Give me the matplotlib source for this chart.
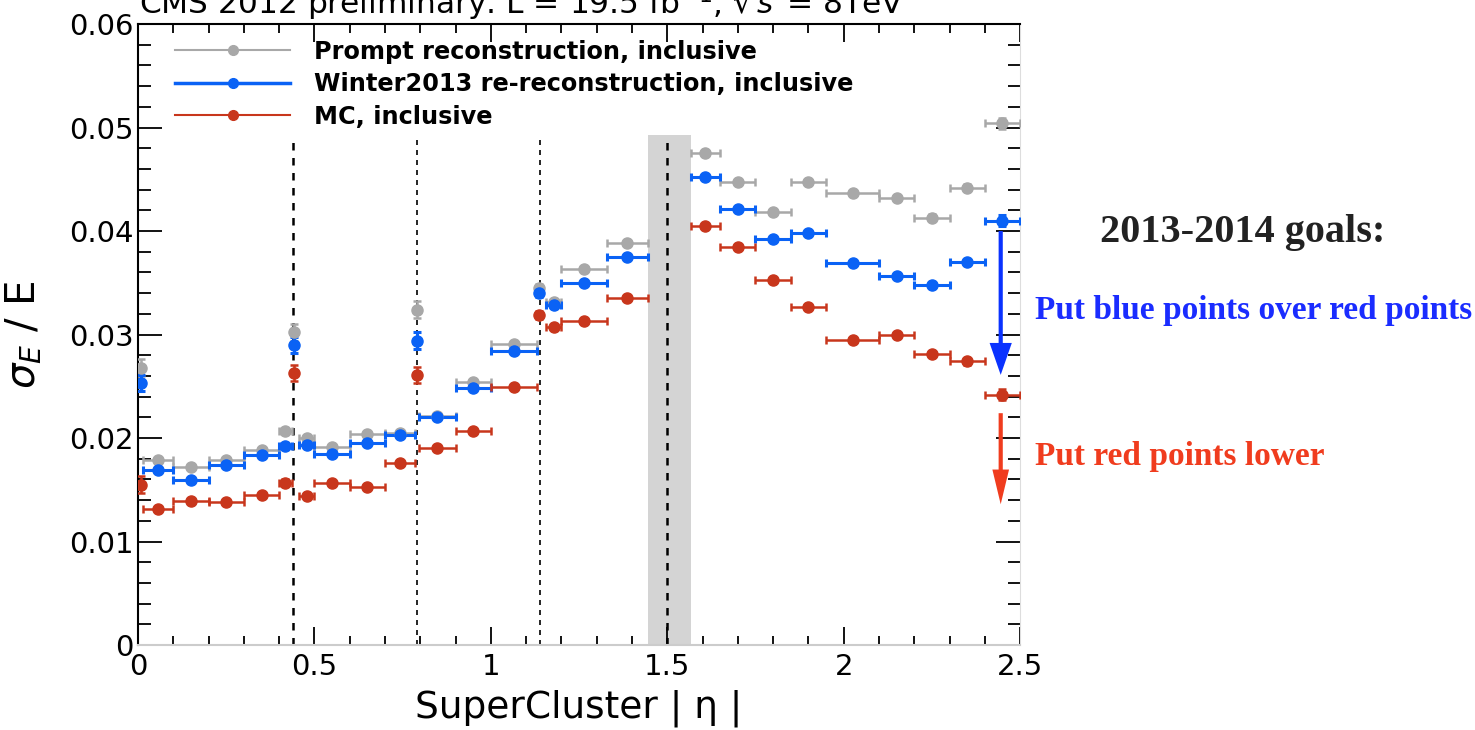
import matplotlib
matplotlib.use('Agg')
import matplotlib.pyplot as plt
import numpy as np
from matplotlib.lines import Line2D
from matplotlib.ticker import MultipleLocator, FuncFormatter

plt.rcParams['font.family'] = ['DejaVu Sans']
plt.rcParams['mathtext.fontset'] = 'dejavusans'

# |eta| bin edges (barrel modules + endcap)
eta_lo = [0.0, 0.015, 0.1, 0.2, 0.3, 0.4, 0.435, 0.455, 0.5, 0.6, 0.7, 0.785, 0.795, 0.9,
          1.0, 1.13, 1.155, 1.2, 1.33, 1.566, 1.65, 1.75, 1.85, 1.95, 2.1, 2.2, 2.3, 2.4]
eta_hi = [0.015, 0.1, 0.2, 0.3, 0.4, 0.435, 0.45, 0.5, 0.6, 0.7, 0.785, 0.795, 0.9, 1.0,
          1.13, 1.145, 1.2, 1.33, 1.4442, 1.65, 1.75, 1.85, 1.95, 2.1, 2.2, 2.3, 2.4, 2.5]

# relative energy resolution sigma_E / E
prompt = [0.0268, 0.0179, 0.0172, 0.0179, 0.0188, 0.0207, 0.0302, 0.0200, 0.0191, 0.0204,
          0.0205, 0.0324, 0.0221, 0.0254, 0.0291, 0.0345, 0.0331, 0.0363, 0.0388, 0.0475,
          0.0447, 0.0418, 0.0447, 0.0437, 0.0432, 0.0413, 0.0442, 0.0504]
winter = [0.0253, 0.0169, 0.0159, 0.0174, 0.0184, 0.0192, 0.0290, 0.0193, 0.0185, 0.0195,
          0.0203, 0.0294, 0.0220, 0.0248, 0.0284, 0.0340, 0.0329, 0.0350, 0.0375, 0.0452,
          0.0421, 0.0392, 0.0398, 0.0369, 0.0357, 0.0348, 0.0370, 0.0410]
mc = [0.0155, 0.0131, 0.0139, 0.0138, 0.0145, 0.0157, 0.0263, 0.0144, 0.0157, 0.0153,
      0.0176, 0.0261, 0.0190, 0.0207, 0.0249, 0.0319, 0.0307, 0.0313, 0.0335, 0.0405,
      0.0385, 0.0353, 0.0327, 0.0295, 0.0300, 0.0281, 0.0274, 0.0242]
stat_err = [0.0008, 0.0002, 0.0002, 0.0002, 0.0002, 0.0003, 0.0008, 0.0003, 0.0002, 0.0002,
            0.0002, 0.0008, 0.0002, 0.0002, 0.0002, 0.0004, 0.0003, 0.0002, 0.0002, 0.0002,
            0.0002, 0.0002, 0.0002, 0.0002, 0.0002, 0.0003, 0.0003, 0.0005]

labels = ['Prompt reconstruction, inclusive',
          'Winter2013 re-reconstruction, inclusive',
          'MC, inclusive']
module_edges = [0.44, 0.79, 1.14, 1.5]
gap = (1.4442, 1.566)

c_gray = '#a8a8a8'
c_blue = '#0a62f5'
c_red = '#c8361c'

lo = np.array(eta_lo)
hi = np.array(eta_hi)
x = (lo + hi) / 2
xerr = (hi - lo) / 2

fig = plt.figure(figsize=(14.75, 7.3), dpi=100)
ax = fig.add_axes([0.0936, 0.1164, 0.598, 0.8507])

# barrel/endcap gap and module boundaries
ax.fill_between(gap, 0, 0.0493, color='#d4d4d4', lw=0, zorder=1)
for e in module_edges:
    ax.plot([e, e], [0, 0.0493], color='black', ls=(0, (3, 3)),
            lw=1.8 if e in (0.44, 1.5) else 1.2, zorder=2)

for vals, col, lw in [(prompt, c_gray, 1.8), (winter, c_blue, 2.2), (mc, c_red, 1.8)]:
    ax.errorbar(x, vals, xerr=xerr, yerr=stat_err, fmt='o', color=col, ms=8,
                elinewidth=lw, capsize=3, capthick=lw, zorder=3)

ax.set_xlim(0, 2.5)
ax.set_ylim(0, 0.06)
ax.xaxis.set_major_locator(MultipleLocator(0.5))
ax.xaxis.set_minor_locator(MultipleLocator(0.1))
ax.yaxis.set_major_locator(MultipleLocator(0.01))
ax.yaxis.set_minor_locator(MultipleLocator(0.002))
ax.xaxis.set_major_formatter(FuncFormatter(lambda v, p: '%g' % v))
ax.yaxis.set_major_formatter(FuncFormatter(lambda v, p: '0' if abs(v) < 1e-9 else '%.2f' % v))
ax.tick_params(which='both', direction='in', top=True, right=True, labelsize=21, width=1.3)
ax.tick_params(axis='x', which='major', length=13, pad=6)
ax.tick_params(axis='x', which='minor', length=6.5)
ax.tick_params(axis='y', which='major', length=17, pad=3)
ax.tick_params(axis='y', which='minor', length=9)
for s in ['left', 'top']:
    ax.spines[s].set_linewidth(1.5)
ax.spines['right'].set_color('#dddddd')
ax.spines['bottom'].set_color('#cccccc')
ax.spines['bottom'].set_linewidth(1.5)

ax.set_xlabel('SuperCluster | η |', fontsize=27, labelpad=6)
ax.set_ylabel(r'$\sigma_{E}$ / E', fontsize=29, labelpad=18)

handles = [Line2D([0], [0], color=c, lw=w, marker='o', ms=7)
           for c, w in [(c_gray, 1.5), (c_blue, 2.5), (c_red, 1.5)]]
ax.legend(handles, labels, loc='upper left', bbox_to_anchor=(0.042, 0.975), frameon=False,
          numpoints=1, handlelength=4.8, handletextpad=1.0, labelspacing=0.36, borderpad=0,
          borderaxespad=0, prop={'family': 'DejaVu Sans', 'weight': 'bold', 'size': 17.3})

fig.text(0.094, 0.9808, r'CMS 2012 preliminary. L = 19.5 fb$^{-1}$, $\sqrt{s}$ = 8TeV',
         fontsize=22.5, ha='left', va='baseline')

# goals on the right
fig.text(0.8427, 0.682, '2013-2014 goals:', fontsize=29, fontweight='bold',
         family='Liberation Serif', color='#222222', ha='center', va='center')
fig.text(0.7017, 0.5753, 'Put blue points over red points', fontsize=24, fontweight='bold',
         family='Liberation Serif', color='#1a2cff', ha='left', va='center')
fig.text(0.7017, 0.3753, 'Put red points lower', fontsize=24, fontweight='bold',
         family='Liberation Serif', color='#f03c1e', ha='left', va='center')

ax.annotate('', xy=(2.445, 0.0261), xytext=(2.445, 0.0400), annotation_clip=False,
            arrowprops=dict(width=3, headwidth=16, headlength=23, shrink=0,
                            color='#0a32ff', lw=0), zorder=5)
ax.annotate('', xy=(2.445, 0.0136), xytext=(2.445, 0.0224), annotation_clip=False,
            arrowprops=dict(width=3, headwidth=12, headlength=25, shrink=0,
                            color='#f03c1e', lw=0), zorder=5)

fig.savefig('out.png', dpi=100)
